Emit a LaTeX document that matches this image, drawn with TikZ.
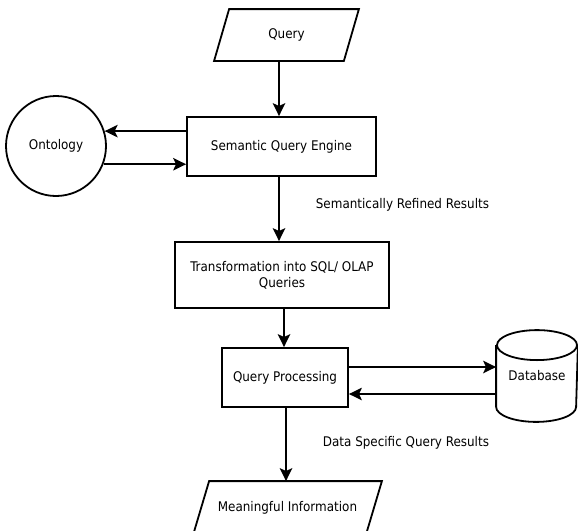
\documentclass[tikz,border=0pt]{standalone}
\usepackage{fontspec}
\setmainfont{DejaVu Sans Condensed}
\usetikzlibrary{arrows.meta,calc}
\begin{document}
\begin{tikzpicture}[x=1pt,y=-1pt,
  font=\fontsize{13.3}{16}\selectfont,
  every path/.style={line width=1.8pt},
  arr/.style={-{Stealth[length=13pt,width=12.5pt,inset=3pt]}},
  boxnode/.style={draw,rectangle,inner sep=0pt,align=center},
  hidden/.style={rectangle,inner sep=0pt,align=center},
  lbl/.style={anchor=west,inner sep=0pt}]
\useasboundingbox (0,0) rectangle (578,530);
% Query (parallelogram)
\node[hidden,minimum width=128pt,minimum height=50pt] (q) at (286.5,35) {Query};
\draw ([xshift=7.5pt]q.north west) -- ([xshift=7.5pt]q.north east) -- ([xshift=-7.5pt]q.south east) -- ([xshift=-7.5pt]q.south west) -- cycle;
% Semantic Query Engine
\node[boxnode,minimum width=189pt,minimum height=59pt] (sqe) at (281.5,146.5) {Semantic Query Engine};
% Ontology
\node[draw,circle,minimum size=100pt,inner sep=0pt] (ont) at (56,146) {Ontology};
% Transformation
\node[boxnode,minimum width=214pt,minimum height=66pt] (tr) at (282,275) {Transformation into SQL/ OLAP\\Queries};
% Query Processing
\node[boxnode,minimum width=126pt,minimum height=59pt] (qp) at (285,377.5) {Query Processing};
% Database (cylinder)
\node[hidden,minimum width=80pt,minimum height=60pt] (db) at (537,376) {Database};
\draw (db.north) ellipse [x radius=40pt, y radius=15pt];
\draw (db.north west) -- (db.south west) arc [start angle=180, end angle=360, x radius=40pt, y radius=15pt] -- (db.north east);
% Meaningful Information (parallelogram)
\node[hidden,minimum width=171pt,minimum height=52pt] (mi) at (287.5,508) {Meaningful Information};
\draw ([xshift=8pt]mi.north west) -- ([xshift=8pt]mi.north east) -- ([xshift=-8pt]mi.south east) -- ([xshift=-8pt]mi.south west) -- cycle;
% connectors
\draw[arr] ([xshift=-2.5pt]sqe.north |- q.south) -- ([xshift=-2.5pt]sqe.north);
\draw[arr] (sqe.west |- ont.17.5) -- (ont.17.5);
\draw[arr] (ont.-21) -- (sqe.west |- ont.-21);
\draw[arr] ([xshift=-2.5pt]sqe.south) -- ([xshift=-2.5pt]sqe.south |- tr.north);
\draw[arr] ([xshift=-1pt]qp.north |- tr.south) -- ([xshift=-1pt]qp.north);
\draw[arr] ([yshift=10.5pt]qp.east) -- ([yshift=10.5pt]qp.east -| db.west);
\draw[arr] ([yshift=-16.5pt]qp.east -| db.west) -- ([yshift=-16.5pt]qp.east);
\draw[arr] ([xshift=1pt]qp.south) -- ([xshift=1pt]qp.south |- mi.north);
% labels
\node[lbl] (l1) at (315,205) {Semantically Refined Results};
\node[lbl] (l2) at (322,443) {Data Specific Query Results};
\end{tikzpicture}
\end{document}
